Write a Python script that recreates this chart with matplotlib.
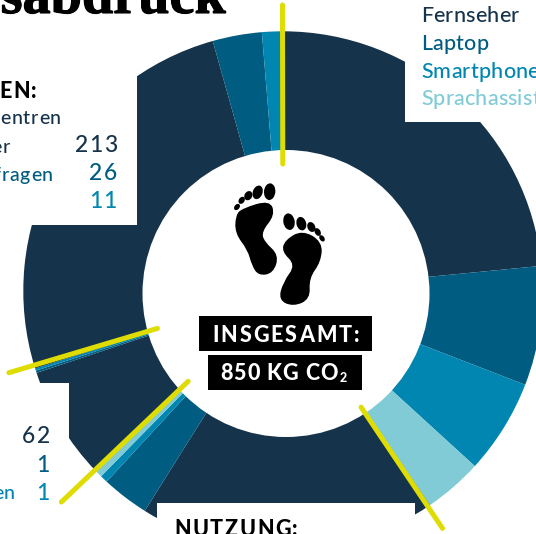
import numpy as np
import matplotlib
matplotlib.use('Agg')
import matplotlib.pyplot as plt
import matplotlib.patheffects as pe
from matplotlib.font_manager import FontProperties
from matplotlib.patches import Circle, Ellipse, PathPatch, Rectangle
from matplotlib.path import Path

DARK = '#15334b'
MID = '#005c80'
BLUE = '#0086b0'
LIGHT = '#80cbd6'
YELLOW = '#dedc00'

# printed numbers of the two visible tables
netz_labels = [213, 26, 11]
entsorgung_labels = [62, 1, 1]

# ring widths, clockwise from the top line
herstellung = [199, 63, 50, 31]
nutzung = [157, 25, 4, 4]
entsorgung = [60, 1.2, 1.2]
netz = [216, 26, 11]
values = herstellung + nutzung + entsorgung + netz
colors = [DARK, MID, BLUE, LIGHT, DARK, MID, BLUE, LIGHT, DARK, MID, BLUE, DARK, MID, BLUE]

legend_labels = ['Fernseher', 'Laptop', 'Smartphone', 'Sprachassistent']
legend_colors = [DARK, MID, BLUE, LIGHT]

W, H = 536, 534
CX, CY = 283, 291
R_OUT = 259.7

fig = plt.figure(figsize=(W / 100, H / 100), dpi=100)
ax = fig.add_axes([0, 0, 1, 1])
renderer = fig.canvas.get_renderer()


def py(y):
    # picture y (from the top) to axes y
    return H - y


def spaced_text(x, y, s, size, color, spacing=0.0, weight=500, zorder=6):
    # matplotlib has no letter spacing, so place the characters one by one
    prop = FontProperties(family='Lato', size=size, weight=weight)
    for i, ch in enumerate(s):
        w = renderer.get_text_width_height_descent(s[:i], prop, False)[0] if i else 0
        ax.text(x + w + i * spacing, py(y), ch, fontproperties=prop, color=color,
                ha='left', va='center_baseline', zorder=zorder)


def spaced_right(x, y, s, size, color, spacing=0.0, weight=500):
    prop = FontProperties(family='Lato', size=size, weight=weight)
    w = renderer.get_text_width_height_descent(s, prop, False)[0]
    spaced_text(x - w - spacing * (len(s) - 1), y, s, size, color, spacing, weight)


def smooth_shape(points):
    # closed curve through the midpoints of the given control points
    pts = np.array(points, dtype=float) / 3 + [225, 175]
    pts[:, 1] = H - pts[:, 1]
    mids = (pts + np.roll(pts, -1, axis=0)) / 2
    verts = [mids[-1]]
    codes = [Path.MOVETO]
    for p, m in zip(pts, mids):
        verts += [p, m]
        codes += [Path.CURVE3, Path.CURVE3]
    return Path(verts, codes)


ax.pie(values, colors=colors, startangle=90, counterclock=False,
       center=(CX, py(CY)), radius=R_OUT, frame=True,
       wedgeprops={'linewidth': 0})
ax.set_xlim(0, W)
ax.set_ylim(0, H)
ax.set_aspect('equal')
ax.axis('off')

# the hole sits a little off the centre of the ring
ax.add_patch(Circle((286, py(293.5)), 143.5, fc='white', ec='none', zorder=3))

# white panels that cut into the ring
for x0, y0, x1, y1 in [(0, 0, 137, 225), (405, 0, 536, 122), (0, 383, 69, 534), (157, 503, 415, 534)]:
    ax.add_patch(Rectangle((x0, py(y1)), x1 - x0, y1 - y0, fc='white', ec='none', zorder=3))

# yellow separators between the four blocks
line_angles = [-0.1, 146.1, 226.4, 253.4]
line_inner = [127, 140, 131, 131]
line_outer = [286, 286, 306, 286]
for a, r0, r1 in zip(line_angles, line_inner, line_outer):
    t = np.radians(a)
    ax.plot([CX + r0 * np.sin(t), CX + r1 * np.sin(t)],
            [py(CY) + r0 * np.cos(t), py(CY) + r1 * np.cos(t)],
            color=YELLOW, lw=3.6, solid_capstyle='round', zorder=4)

# footprints
left_foot = [(52, 100), (135, 75), (150, 120), (110, 170), (118, 200), (162, 240), (145, 295), (100, 302),
             (80, 270), (68, 225), (30, 175), (32, 120)]
right_foot = [(180, 195), (232, 165), (292, 200), (288, 260), (252, 310), (256, 372), (205, 395), (160, 375),
              (175, 320), (212, 270), (170, 230)]
for foot in (left_foot, right_foot):
    ax.add_patch(PathPatch(smooth_shape(foot), fc='black', ec='none', zorder=5))
toes = [(134, 50, 34, 50, -5), (98, 52, 29, 42, -20), (70, 62, 23, 29, -30), (50, 76, 17, 23, -35), (36, 96, 15, 21, -40),
        (192, 140, 34, 50, 10), (229, 146, 29, 41, 15), (259, 156, 23, 31, 25), (278, 171, 17, 25, 30), (291, 190, 14, 21, 35)]
for tx, ty, tw, th, ang in toes:
    ax.add_patch(Ellipse((225 + tx / 3, py(175 + ty / 3)), tw / 3, th / 3, angle=ang, fc='black', ec='none', zorder=5))

# centre label
ax.add_patch(Rectangle((199, py(351)), 173, 35, fc='black', ec='none', zorder=5))
ax.add_patch(Rectangle((208, py(390)), 154, 35, fc='black', ec='none', zorder=5))
spaced_text(212, 334, 'INSGESAMT:', 15.5, 'white', 2.0, 'black')
spaced_text(220, 372, '850 KG CO', 15.5, 'white', 1.0, 'black')
ax.text(340, py(378), '2', family='Lato', size=9, weight='black', color='white', ha='left', va='center', zorder=6)

# title, cut off by the top and left edge
ax.text(226, py(13), 'Fussabdruck', family='Liberation Serif', size=40.5, weight='bold', color='black',
        ha='right', va='baseline', path_effects=[pe.withStroke(linewidth=0.8, foreground='black')])

# legend
for label, col, y in zip(legend_labels, legend_colors, [14, 42, 70, 97]):
    spaced_text(421, y, label, 15.5, col, 0.2)

# top left block
spaced_right(37, 90, 'EN:', 15.5, 'black', 1.8, 'black')
spaced_right(61, 117, 'entren', 14, DARK, 0.8)
spaced_right(10, 146, 'er', 14, DARK, 0.8)
spaced_right(53, 174, 'fragen', 14, MID, 0.8)
for val, col, y in zip(netz_labels, [DARK, MID, BLUE], [144, 172, 200]):
    spaced_right(117, y, str(val), 16.5, col, 1.2)

# bottom left block
for val, col, y in zip(entsorgung_labels, [DARK, MID, BLUE], [434.5, 463.5, 491]):
    spaced_right(50, y, str(val), 16.5, col, 1.2)
spaced_right(15, 492, 'en', 14, BLUE, 0.8)

spaced_text(174, 527, 'NUTZUNG:', 15.5, 'black', 1.6, 'black')

fig.savefig('out.png', dpi=100)
